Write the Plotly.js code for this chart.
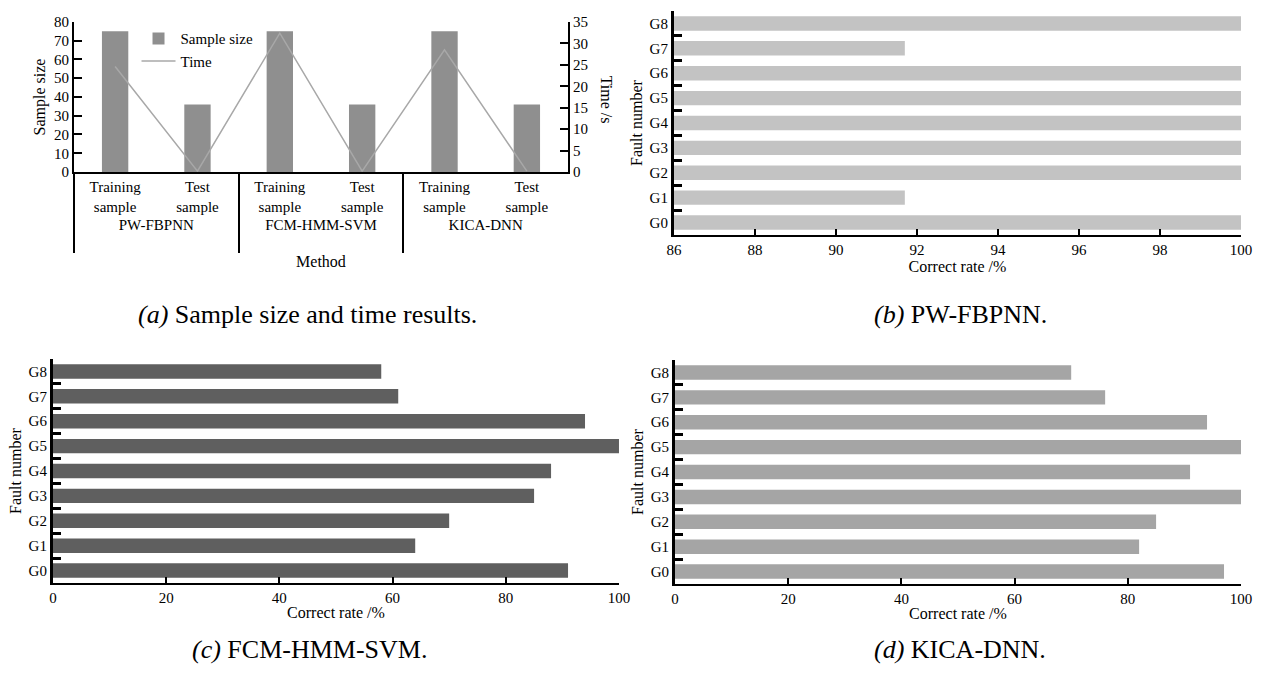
<!DOCTYPE html>
<html>
<head>
<meta charset="utf-8">
<script src="https://cdn.plot.ly/plotly-3.0.1.min.js"></script>
<style>
html,body{margin:0;padding:0;background:#fff;}
#chart{width:1264px;height:678px;}
</style>
</head>
<body>
<div id="chart"></div>
<script>
// ---- data ----
const methods = ['PW-FBPNN', 'FCM-HMM-SVM', 'KICA-DNN'];
const sampleTypes = ['Training<br>sample', 'Test<br>sample'];
const sampleSize = [75, 36, 75, 36, 75, 36];
const timeSec = [24.6, 0.2, 32.4, 0.2, 28.5, 0.2];

const faults = ['G0', 'G1', 'G2', 'G3', 'G4', 'G5', 'G6', 'G7', 'G8'];
const rateB = [100, 91.7, 100, 100, 100, 100, 100, 91.7, 100];   // PW-FBPNN
const rateC = [91, 64, 70, 85, 88, 100, 94, 61, 58];             // FCM-HMM-SVM
const rateD = [97, 82, 85, 100, 91, 100, 94, 76, 70];            // KICA-DNN

const captions = ['<i>(a)</i> Sample size and time results.', '<i>(b)</i> PW-FBPNN.',
                  '<i>(c)</i> FCM-HMM-SVM.', '<i>(d)</i> KICA-DNN.'];

// ---- build multicategory x (trailing blank line gives room below group labels) ----
const grp = [], cat = [];
methods.forEach(m => sampleTypes.forEach(s => { grp.push(m + '<br> '); cat.push(s); }));

const FONT = 'Liberation Serif, Times New Roman, serif';

const traces = [
  {type: 'bar', x: [grp, cat], y: sampleSize, xaxis: 'x', yaxis: 'y', width: 0.32,
   marker: {color: '#8f8f8f'}, name: 'Sample size'},
  {type: 'scatter', mode: 'lines', x: [grp, cat], y: timeSec, xaxis: 'x', yaxis: 'y2',
   line: {color: '#a8a8a8', width: 1.5}, name: 'Time'},
  {type: 'bar', orientation: 'h', y: faults, x: rateB, xaxis: 'x2', yaxis: 'y3', width: 0.58,
   marker: {color: '#c3c3c3'}, showlegend: false},
  {type: 'bar', orientation: 'h', y: faults, x: rateC, xaxis: 'x3', yaxis: 'y4', width: 0.58,
   marker: {color: '#5f5f5f'}, showlegend: false},
  {type: 'bar', orientation: 'h', y: faults, x: rateD, xaxis: 'x4', yaxis: 'y5', width: 0.58,
   marker: {color: '#a5a5a5'}, showlegend: false}
];

function hx(domain, anchor, range, dtick) {
  return {domain, anchor, range, dtick, ticks: 'inside', ticklen: 6, tickwidth: 2, tickcolor: '#000',
    showline: true, linecolor: '#000', linewidth: 2, showgrid: false, zeroline: false,
    tickfont: {size: 15}, title: {text: 'Correct rate /%', font: {size: 16}, standoff: 2}};
}
function hy(domain, anchor) {
  return {domain, anchor, type: 'category', categoryorder: 'array', categoryarray: faults,
    range: [-0.5, 8.5], tickson: 'boundaries', ticks: 'inside', ticklen: 8, tickwidth: 3, tickcolor: '#000',
    showline: true, linecolor: '#000', linewidth: 3, showgrid: false, zeroline: false,
    tickfont: {size: 15}, title: {text: 'Fault number', font: {size: 16}, standoff: 4}};
}

const layout = {
  width: 1264, height: 678,
  margin: {l: 0, r: 0, t: 0, b: 0},
  paper_bgcolor: '#fff', plot_bgcolor: '#fff',
  font: {family: FONT, color: '#000', size: 15},
  showlegend: true,
  legend: {x: 0.108, y: 0.967, xanchor: 'left', yanchor: 'top', bgcolor: 'rgba(0,0,0,0)',
           font: {size: 15}, itemwidth: 34, tracegroupgap: 2},
  xaxis: {domain: [0.0585, 0.4494], anchor: 'y', type: 'multicategory',
    showline: true, linecolor: '#000', linewidth: 2, ticks: '', showgrid: false, zeroline: false,
    showdividers: true, dividercolor: '#000', dividerwidth: 2,
    tickfont: {size: 15}, title: {text: 'Method', font: {size: 16}, standoff: 5}},
  yaxis: {domain: [0.7463, 0.9676], anchor: 'x', range: [0, 80], dtick: 10,
    ticks: 'inside', ticklen: 8, tickwidth: 2, tickcolor: '#000',
    showline: true, linecolor: '#000', linewidth: 2, showgrid: false, zeroline: false,
    tickfont: {size: 15}, title: {text: 'Sample size', font: {size: 16}, standoff: 4}},
  yaxis2: {overlaying: 'y', side: 'right', anchor: 'x', range: [0, 35], dtick: 5,
    ticks: 'inside', ticklen: 8, tickwidth: 2, tickcolor: '#000',
    showline: true, linecolor: '#000', linewidth: 2, showgrid: false, zeroline: false,
    tickfont: {size: 15}},
  xaxis2: hx([0.5332, 0.9818], 'y3', [86, 100], 2),
  yaxis3: hy([0.6534, 0.9838], 'x2'),
  xaxis3: hx([0.0419, 0.4897], 'y4', [0, 100], 20),
  yaxis4: hy([0.1401, 0.4705], 'x3'),
  xaxis4: hx([0.534, 0.9818], 'y5', [0, 100], 20),
  yaxis5: hy([0.1386, 0.469], 'x4'),
  annotations: [
    {text: 'Time /s', xref: 'paper', yref: 'paper', x: 0.4805, y: 0.8525, textangle: 90,
     showarrow: false, font: {size: 16}, xanchor: 'center', yanchor: 'middle'},
    {text: captions[0], xref: 'paper', yref: 'paper', x: 307.5/1264, y: 1 - 315/678,
     showarrow: false, font: {size: 26}, xanchor: 'center', yanchor: 'middle'},
    {text: captions[1], xref: 'paper', yref: 'paper', x: 960/1264, y: 1 - 315/678,
     showarrow: false, font: {size: 26}, xanchor: 'center', yanchor: 'middle'},
    {text: captions[2], xref: 'paper', yref: 'paper', x: 309/1264, y: 1 - 649/678,
     showarrow: false, font: {size: 26}, xanchor: 'center', yanchor: 'middle'},
    {text: captions[3], xref: 'paper', yref: 'paper', x: 960/1264, y: 1 - 649/678,
     showarrow: false, font: {size: 26}, xanchor: 'center', yanchor: 'middle'}
  ]
};

Plotly.newPlot('chart', traces, layout, {displayModeBar: false, staticPlot: true});
</script>
</body>
</html>
